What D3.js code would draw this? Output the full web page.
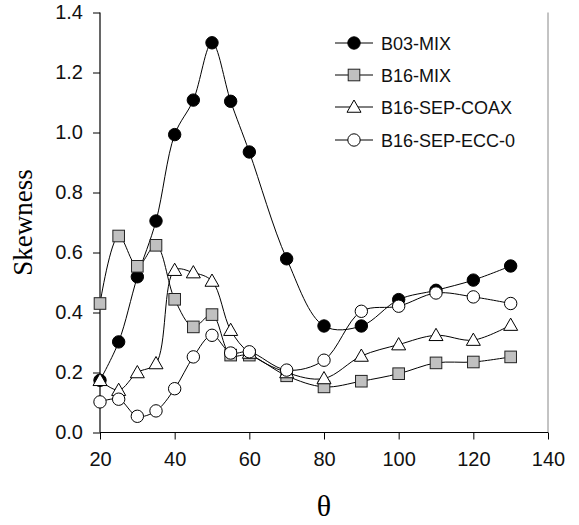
<!DOCTYPE html>
<html><head><meta charset="utf-8">
<script src="https://cdn.jsdelivr.net/npm/d3@7"></script>
<style>body{margin:0;background:#fff;}svg{display:block;}</style>
</head><body>
<svg id="c" width="579" height="525"></svg>
<script>
const theta = [20,25,30,35,40,45,50,55,60,70,80,90,100,110,120,130];
const b03mix   = [0.174,0.302,0.519,0.705,0.993,1.108,1.299,1.104,0.935,0.579,0.355,0.355,0.443,0.474,0.508,0.555];
const b16mix   = [0.430,0.655,0.554,0.624,0.444,0.352,0.393,0.258,0.258,0.189,0.152,0.171,0.196,0.232,0.235,0.252];
const b16coax  = [0.174,0.141,0.200,0.230,0.541,0.533,0.505,0.341,0.265,0.200,0.180,0.255,0.293,0.324,0.308,0.358];
const b16ecc0  = [0.102,0.111,0.054,0.072,0.146,0.252,0.324,0.265,0.269,0.208,0.241,0.404,0.421,0.465,0.452,0.430];
const seriesNames = ["B03-MIX","B16-MIX","B16-SEP-COAX","B16-SEP-ECC-0"];
const xTicks = [20,40,60,80,100,120,140];
const yTicks = [0,0.2,0.4,0.6,0.8,1.0,1.2,1.4];

const series = [
  {name: seriesNames[0], values: b03mix, shape: "circle", fill: "#000"},
  {name: seriesNames[1], values: b16mix, shape: "square", fill: "#c0c0c0"},
  {name: seriesNames[2], values: b16coax, shape: "triangle", fill: "#fff"},
  {name: seriesNames[3], values: b16ecc0, shape: "circle", fill: "#fff"}
];

const svg = d3.select("#c");
const L = 100, R = 548, T = 12.5, B = 432.5;
const x = d3.scaleLinear().domain([20,140]).range([L,R]);
const y = d3.scaleLinear().domain([0,1.4]).range([B,T]);

// right border
svg.append("line").attr("x1",R).attr("x2",R).attr("y1",T).attr("y2",B)
  .attr("stroke","#888").attr("stroke-width",1);

const font = "'Liberation Sans', Arial, sans-serif";
const xAxis = svg.append("g").attr("transform",`translate(0,${B})`)
  .call(d3.axisBottom(x).tickValues(xTicks).tickSize(7).tickPadding(12).tickFormat(d3.format("d")));
const yAxis = svg.append("g").attr("transform",`translate(${L},0)`)
  .call(d3.axisLeft(y).tickValues(yTicks).tickSize(7).tickPadding(10).tickFormat(d3.format(".1f")));
[xAxis,yAxis].forEach(g=>{
  g.select(".domain").attr("stroke","#000").attr("stroke-width",1.2);
  g.selectAll(".tick line").attr("stroke","#000").attr("stroke-width",1);
  g.selectAll(".tick text").attr("font-family",font).attr("font-size",20).attr("fill","#111");
});
yAxis.select(".domain").attr("d",`M-0,${B}V${T}`);
xAxis.select(".domain").attr("d",`M${L},0H${R}`);

svg.append("text").attr("x",(L+R)/2).attr("y",516).attr("text-anchor","middle")
  .attr("font-family","'Liberation Serif','Times New Roman',serif").attr("font-size",30).text("θ");
svg.append("text").attr("transform",`translate(32,${(T+B)/2}) rotate(-90)`).attr("text-anchor","middle")
  .attr("font-family","'Liberation Serif','Times New Roman',serif").attr("font-size",27).text("Skewness");

const line = d3.line().x(d=>x(d[0])).y(d=>y(d[1])).curve(d3.curveCatmullRom.alpha(0.5));

function marker(g, shape, fill, cx, cy){
  if(shape==="circle"){
    g.append("circle").attr("cx",cx).attr("cy",cy).attr("r",6.2).attr("fill",fill).attr("stroke","#000").attr("stroke-width",1);
  } else if(shape==="square"){
    g.append("rect").attr("x",cx-5.8).attr("y",cy-5.8).attr("width",11.6).attr("height",11.6).attr("fill",fill).attr("stroke","#222").attr("stroke-width",1);
  } else {
    const s=7;
    g.append("path").attr("d",`M${cx},${cy-s}L${cx+s},${cy+s*0.75}L${cx-s},${cy+s*0.75}Z`).attr("fill",fill).attr("stroke","#000").attr("stroke-width",1);
  }
}

series.forEach(s=>{
  const g = svg.append("g");
  const pts = theta.map((t,i)=>[t,s.values[i]]);
  g.append("path").attr("d",line(pts)).attr("fill","none").attr("stroke","#000").attr("stroke-width",1);
  pts.forEach(p=>marker(g,s.shape,s.fill,x(p[0]),y(p[1])));
});

// legend
const legY = [43,75,107,140];
series.forEach((s,i)=>{
  const g = svg.append("g");
  g.append("line").attr("x1",335).attr("x2",373).attr("y1",legY[i]).attr("y2",legY[i]).attr("stroke","#000").attr("stroke-width",1);
  marker(g,s.shape,s.fill,354,legY[i]);
  g.append("text").attr("x",381).attr("y",legY[i]+6.5).attr("font-family",font).attr("font-size",18).attr("fill","#111").text(s.name);
});
</script>
</body></html>
